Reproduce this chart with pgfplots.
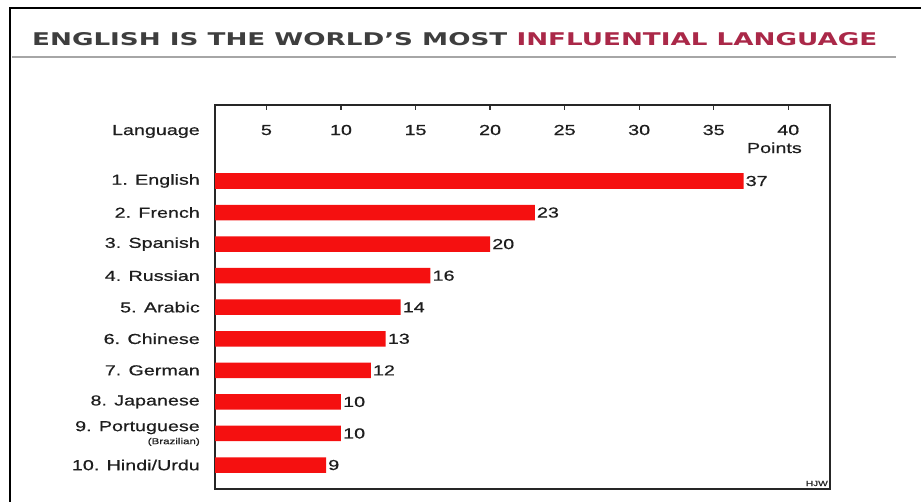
\documentclass[border=0pt]{standalone}
\usepackage{fontspec}
\setmainfont{Liberation Sans}[FakeStretch=1.36, FakeBold=0.6]
\newfontfamily\titlefont{DejaVu Sans}
\usepackage{graphicx}
\usepackage{pgfplots}
\pgfplotsset{compat=1.18}
\definecolor{barred}{RGB}{245,16,16}
\definecolor{titlegray}{RGB}{62,62,62}
\definecolor{titlered}{RGB}{170,40,72}
\definecolor{txt}{RGB}{30,30,30}
\newcommand{\lblfont}{\fontsize{14.5bp}{16bp}\selectfont}
\begin{document}
\begin{tikzpicture}
\path[use as bounding box] (0,0) rectangle (921bp,-502bp);
\draw[line width=2bp, black] (10bp,-502bp) -- (10bp,-8bp) -- (921bp,-8bp);
\node[anchor=base west, inner sep=0pt] at (32bp,-45bp)
  {\resizebox{845bp}{13bp}{\titlefont\bfseries\color{titlegray}ENGLISH IS THE WORLD’S MOST \color{titlered}INFLUENTIAL LANGUAGE}};
\draw[gray!70, line width=1.3bp] (12bp,-57bp) -- (896bp,-57bp);
\begin{axis}[
  at={(215bp,-105bp)}, anchor=north west,
  scale only axis, width=615bp, height=384bp,
  xbar, bar width=15.5bp,
  xmin=1.55, xmax=42.8,
  ymin=-1.408, ymax=10.76, y dir=reverse,
  axis line style={line width=1.3bp, black!85},
  xtick={5,10,...,40},
  xtick pos=right, xticklabel pos=right,
  tick align=inside,
  major tick length=5bp,
  xtick style={black!80, line width=1.2bp},
  xticklabel style={anchor=base, yshift=-30bp, font=\lblfont, text=txt},
  ytick={1,...,10},
  yticklabels={1. English, 2. French, 3. Spanish, 4. Russian, 5. Arabic, 6. Chinese, 7. German, 8. Japanese, {9. Portuguese\\[-3bp]{\fontsize{8.5bp}{9bp}\selectfont (Brazilian)}}, 10. Hindi/Urdu},
  ytick style={draw=none},
  yticklabel style={anchor=east, inner sep=0pt, xshift=-15bp, font=\lblfont, text=txt, align=right},
  /pgf/number format/assume math mode=true,
  nodes near coords,
  point meta=x,
  nodes near coords style={anchor=west, inner sep=2bp, font=\lblfont, text=txt},
]
\addplot[fill=barred, draw=none, bar shift=0pt] coordinates {
  (37,1) (23,2) (20,3) (16,4) (14,5) (13,6) (12,7) (10,8) (10,9) (9,10)};
\end{axis}
\node[anchor=base east, inner sep=0pt, text=txt, font=\lblfont] at (200bp,-135bp) {Language};
\node[anchor=base east, inner sep=0pt, text=txt, font=\lblfont] at (802bp,-153bp) {Points};
\node[anchor=base east, inner sep=0pt, text=txt, font=\fontsize{7.5bp}{8bp}\selectfont] at (828bp,-486bp) {HJW};
\end{tikzpicture}
\end{document}
